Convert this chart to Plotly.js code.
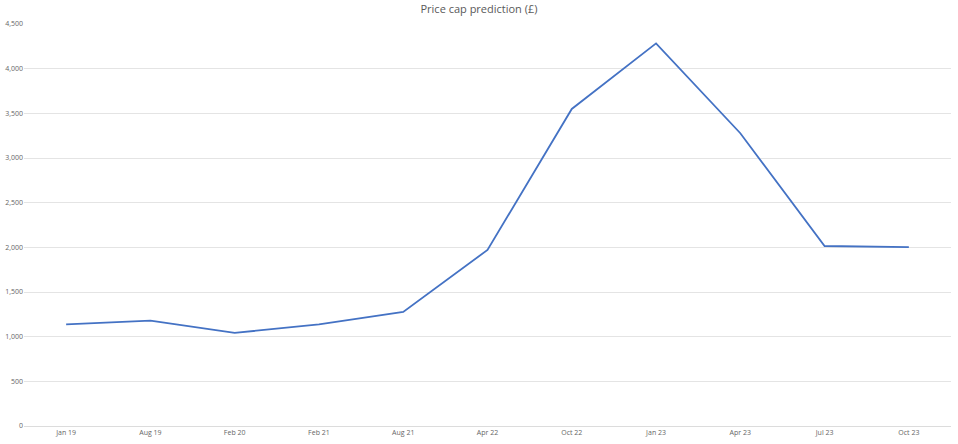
<!DOCTYPE html>
<html>
<head>
<meta charset="utf-8">
<script src="https://cdn.plot.ly/plotly-3.0.1.min.js"></script>
<style>html,body{margin:0;padding:0;background:#fff;}#chart{width:958px;height:444px;}</style>
</head>
<body>
<div id="chart"></div>
<script>
const categories = ["Jan 19","Aug 19","Feb 20","Feb 21","Aug 21","Apr 22","Oct 22","Jan 23","Apr 23","Jul 23","Oct 23"];
const priceCap = [1137, 1179, 1042, 1138, 1277, 1971, 3549, 4283, 3277, 2015, 2003];
const yTicks = [0, 500, 1000, 1500, 2000, 2500, 3000, 3500, 4000, 4500];
const chartTitle = "Price cap prediction (£)";

const trace = {
  x: categories,
  y: priceCap,
  type: "scatter",
  mode: "lines",
  line: {color: "#4472C4", width: 1.8},
  hoverinfo: "skip"
};

const layout = {
  width: 958,
  height: 444,
  margin: {l: 24, r: 7, t: 24, b: 18},
  paper_bgcolor: "#ffffff",
  plot_bgcolor: "#ffffff",
  showlegend: false,
  font: {family: "Open Sans, sans-serif", color: "#595959"},
  title: {
    text: chartTitle,
    font: {family: "Open Sans, sans-serif", size: 11, color: "#595959"},
    x: 0.5, xanchor: "center",
    y: 0.98, yanchor: "middle"
  },
  xaxis: {
    type: "category",
    range: [-0.5, categories.length - 0.5],
    showgrid: false,
    zeroline: false,
    showline: true,
    linecolor: "#dcdcdc",
    linewidth: 1,
    ticks: "",
    tickfont: {size: 7, color: "#666666"},
    fixedrange: true
  },
  yaxis: {
    range: [0, 4500],
    tickvals: yTicks,
    tickformat: ",",
    showgrid: true,
    gridcolor: "#e4e4e4",
    gridwidth: 1,
    zeroline: false,
    showline: false,
    ticks: "",
    tickfont: {size: 7, color: "#666666"},
    fixedrange: true
  }
};

Plotly.newPlot("chart", [trace], layout, {displayModeBar: false, staticPlot: true});
</script>
</body>
</html>
